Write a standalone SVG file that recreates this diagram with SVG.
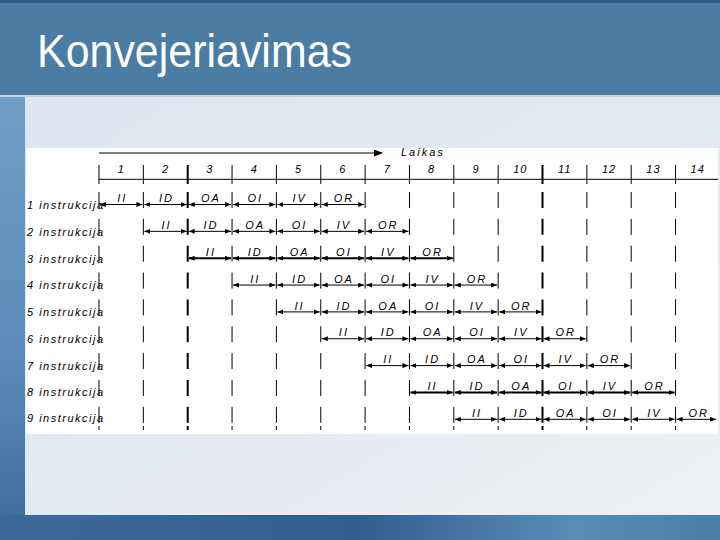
<svg xmlns="http://www.w3.org/2000/svg" width="720" height="540" viewBox="0 0 720 540">
<style>
.title{font-family:"Liberation Sans",Arial,sans-serif;font-size:47px;fill:#ffffff}
.lbl{font-family:"Liberation Sans",Arial,sans-serif;font-size:11px;font-style:italic;letter-spacing:1.5px;fill:#000}
.stg{font-family:"Liberation Sans",Arial,sans-serif;font-size:11px;font-style:italic;letter-spacing:2px;fill:#000;text-anchor:middle}
.num{font-family:"Liberation Sans",Arial,sans-serif;font-size:11px;font-style:italic;letter-spacing:1px;fill:#000;text-anchor:middle}
.grid{stroke:#000;stroke-width:1;fill:none}
.gt{stroke-width:2}
.dash{stroke-dasharray:16 10.85}
.arr{stroke:#000;stroke-width:1;fill:none;marker-start:url(#ah);marker-end:url(#ah)}
.thick{stroke-width:2}
</style>
<defs>
<marker id="ah" markerUnits="userSpaceOnUse" markerWidth="6" markerHeight="5" refX="6" refY="2.5" orient="auto-start-reverse"><path d="M0,0 L6,2.5 L0,5 z" fill="#000"/></marker>
<marker id="big" markerUnits="userSpaceOnUse" markerWidth="9" markerHeight="7" refX="8" refY="3.5" orient="auto"><path d="M0,0 L9,3.5 L0,7 z" fill="#000"/></marker>
<linearGradient id="panel" x1="0" y1="0" x2="1" y2="1">
<stop offset="0" stop-color="#dde5ee"/><stop offset="0.5" stop-color="#e3e9f0"/><stop offset="1" stop-color="#eef2f6"/>
</linearGradient>
<linearGradient id="left" x1="0" y1="0" x2="0" y2="1">
<stop offset="0" stop-color="#6e9ec8"/><stop offset="0.6" stop-color="#5a8bb8"/><stop offset="1" stop-color="#3c6a98"/>
</linearGradient>
<linearGradient id="bottom" x1="0" y1="0" x2="1" y2="0">
<stop offset="0" stop-color="#3c6a98"/><stop offset="0.5" stop-color="#2f5f8f"/><stop offset="0.8" stop-color="#5a8cb8"/><stop offset="1" stop-color="#4a7ca8"/>
</linearGradient>
</defs>
<!-- background -->
<rect x="0" y="0" width="720" height="540" fill="#4b7ca3"/>
<rect x="0" y="0" width="720" height="3" fill="#2c5a85"/>
<rect x="0" y="97" width="25" height="443" fill="url(#left)"/>
<rect x="0" y="515" width="720" height="25" fill="url(#bottom)"/>
<rect x="25" y="97" width="695" height="418" fill="url(#panel)"/>
<rect x="0" y="95" width="720" height="2" fill="#c5d2de"/>
<text class="title" x="37" y="67" textLength="315" lengthAdjust="spacingAndGlyphs">Konvejeriavimas</text>
<rect x="26" y="148" width="692" height="286" fill="#ffffff"/>

<!-- header -->
<g id="header">
<text class="lbl" x="401" y="156" style="letter-spacing:2px">Laikas</text>
<line class="grid" x1="99" y1="179.3" x2="718" y2="179.3"/>
<g class="grid">
<line x1="99" y1="165" x2="99" y2="184"/>
<line x1="143.35" y1="165" x2="143.35" y2="184"/>
<line class="gt" x1="187.7" y1="165" x2="187.7" y2="184"/>
<line x1="232.05" y1="165" x2="232.05" y2="184"/>
<line x1="276.4" y1="165" x2="276.4" y2="184"/>
<line x1="320.75" y1="165" x2="320.75" y2="184"/>
<line x1="365.1" y1="165" x2="365.1" y2="184"/>
<line x1="409.45" y1="165" x2="409.45" y2="184"/>
<line x1="453.8" y1="165" x2="453.8" y2="184"/>
<line x1="498.15" y1="165" x2="498.15" y2="184"/>
<line class="gt" x1="542.5" y1="165" x2="542.5" y2="184"/>
<line x1="586.85" y1="165" x2="586.85" y2="184"/>
<line x1="631.2" y1="165" x2="631.2" y2="184"/>
<line x1="675.55" y1="165" x2="675.55" y2="184"/>
</g>
<text class="num" x="121.2" y="173">1</text>
<text class="num" x="165.5" y="173">2</text>
<text class="num" x="209.9" y="173">3</text>
<text class="num" x="254.2" y="173">4</text>
<text class="num" x="298.6" y="173">5</text>
<text class="num" x="342.9" y="173">6</text>
<text class="num" x="387.3" y="173">7</text>
<text class="num" x="431.6" y="173">8</text>
<text class="num" x="476" y="173">9</text>
<text class="num" x="520.3" y="173">10</text>
<text class="num" x="564.7" y="173">11</text>
<text class="num" x="609" y="173">12</text>
<text class="num" x="653.4" y="173">13</text>
<text class="num" x="697.7" y="173">14</text>
</g>

<!-- body grid -->
<g id="grid" class="grid">
<g class="dash">
<line x1="99" y1="192" x2="99" y2="424"/>
<line x1="143.35" y1="192" x2="143.35" y2="424"/>
<line class="gt" x1="187.7" y1="192" x2="187.7" y2="424"/>
<line x1="232.05" y1="192" x2="232.05" y2="424"/>
<line x1="276.4" y1="192" x2="276.4" y2="424"/>
<line x1="320.75" y1="192" x2="320.75" y2="424"/>
<line x1="365.1" y1="192" x2="365.1" y2="424"/>
<line x1="409.45" y1="192" x2="409.45" y2="424"/>
<line x1="453.8" y1="192" x2="453.8" y2="424"/>
<line x1="498.15" y1="192" x2="498.15" y2="424"/>
<line class="gt" x1="542.5" y1="192" x2="542.5" y2="424"/>
<line x1="586.85" y1="192" x2="586.85" y2="424"/>
<line x1="631.2" y1="192" x2="631.2" y2="424"/>
<line x1="675.55" y1="192" x2="675.55" y2="424"/>
</g>
<path d="M99,426V430M143.35,426V430M232.05,426V430M276.4,426V430M320.75,426V430M365.1,426V430M409.45,426V430M453.8,426V430M498.15,426V430M586.85,426V430M631.2,426V430M675.55,426V430"/>
<path class="gt" d="M187.7,426V430M542.5,426V430"/>
</g>

<!-- connectors -->
<g id="connectors">
<line x1="99" y1="153" x2="382" y2="153" stroke="#000" stroke-width="1" marker-end="url(#big)"/>
<g class="arr">
<line x1="100" y1="204.5" x2="142.35" y2="204.5"/><line x1="144.35" y1="204.5" x2="186.7" y2="204.5"/><line x1="188.7" y1="204.5" x2="231.05" y2="204.5"/><line x1="233.05" y1="204.5" x2="275.4" y2="204.5"/><line x1="277.4" y1="204.5" x2="319.75" y2="204.5"/><line x1="321.75" y1="204.5" x2="364.1" y2="204.5"/>
<line x1="144.35" y1="231.35" x2="186.7" y2="231.35"/><line x1="188.7" y1="231.35" x2="231.05" y2="231.35"/><line x1="233.05" y1="231.35" x2="275.4" y2="231.35"/><line x1="277.4" y1="231.35" x2="319.75" y2="231.35"/><line x1="321.75" y1="231.35" x2="364.1" y2="231.35"/><line x1="366.1" y1="231.35" x2="408.45" y2="231.35"/>
<g class="thick"><line x1="188.7" y1="258.2" x2="231.05" y2="258.2"/><line x1="233.05" y1="258.2" x2="275.4" y2="258.2"/><line x1="277.4" y1="258.2" x2="319.75" y2="258.2"/><line x1="321.75" y1="258.2" x2="364.1" y2="258.2"/><line x1="366.1" y1="258.2" x2="408.45" y2="258.2"/><line x1="410.45" y1="258.2" x2="452.8" y2="258.2"/></g>
<line x1="233.05" y1="285.05" x2="275.4" y2="285.05"/><line x1="277.4" y1="285.05" x2="319.75" y2="285.05"/><line x1="321.75" y1="285.05" x2="364.1" y2="285.05"/><line x1="366.1" y1="285.05" x2="408.45" y2="285.05"/><line x1="410.45" y1="285.05" x2="452.8" y2="285.05"/><line x1="454.8" y1="285.05" x2="497.15" y2="285.05"/>
<line x1="277.4" y1="311.9" x2="319.75" y2="311.9"/><line x1="321.75" y1="311.9" x2="364.1" y2="311.9"/><line x1="366.1" y1="311.9" x2="408.45" y2="311.9"/><line x1="410.45" y1="311.9" x2="452.8" y2="311.9"/><line x1="454.8" y1="311.9" x2="497.15" y2="311.9"/><line x1="499.15" y1="311.9" x2="541.5" y2="311.9"/>
<line x1="321.75" y1="338.75" x2="364.1" y2="338.75"/><line x1="366.1" y1="338.75" x2="408.45" y2="338.75"/><line x1="410.45" y1="338.75" x2="452.8" y2="338.75"/><line x1="454.8" y1="338.75" x2="497.15" y2="338.75"/><line x1="499.15" y1="338.75" x2="541.5" y2="338.75"/><line x1="543.5" y1="338.75" x2="585.85" y2="338.75"/>
<line x1="366.1" y1="365.6" x2="408.45" y2="365.6"/><line x1="410.45" y1="365.6" x2="452.8" y2="365.6"/><line x1="454.8" y1="365.6" x2="497.15" y2="365.6"/><line x1="499.15" y1="365.6" x2="541.5" y2="365.6"/><line x1="543.5" y1="365.6" x2="585.85" y2="365.6"/><line x1="587.85" y1="365.6" x2="630.2" y2="365.6"/>
<g class="thick"><line x1="410.45" y1="392.45" x2="452.8" y2="392.45"/><line x1="454.8" y1="392.45" x2="497.15" y2="392.45"/><line x1="499.15" y1="392.45" x2="541.5" y2="392.45"/><line x1="543.5" y1="392.45" x2="585.85" y2="392.45"/><line x1="587.85" y1="392.45" x2="630.2" y2="392.45"/><line x1="632.2" y1="392.45" x2="674.55" y2="392.45"/></g>
<line x1="454.8" y1="419.3" x2="497.15" y2="419.3"/><line x1="499.15" y1="419.3" x2="541.5" y2="419.3"/><line x1="543.5" y1="419.3" x2="585.85" y2="419.3"/><line x1="587.85" y1="419.3" x2="630.2" y2="419.3"/><line x1="632.2" y1="419.3" x2="674.55" y2="419.3"/><line x1="676.55" y1="419.3" x2="716" y2="419.3"/>
</g>
</g>

<!-- rows -->
<g id="instr1"><text class="lbl" x="27" y="209">1 instrukcija</text>
<text class="stg" x="122.2" y="202">II</text><text class="stg" x="166.5" y="202">ID</text><text class="stg" x="210.9" y="202">OA</text><text class="stg" x="255.2" y="202">OI</text><text class="stg" x="299.6" y="202">IV</text><text class="stg" x="343.9" y="202">OR</text></g>
<g id="instr2"><text class="lbl" x="27" y="235.5">2 instrukcija</text>
<text class="stg" x="166.5" y="229">II</text><text class="stg" x="210.9" y="229">ID</text><text class="stg" x="255.2" y="229">OA</text><text class="stg" x="299.6" y="229">OI</text><text class="stg" x="343.9" y="229">IV</text><text class="stg" x="388.3" y="229">OR</text></g>
<g id="instr3"><text class="lbl" x="27" y="262.5">3 instrukcija</text>
<text class="stg" x="210.9" y="255.5">II</text><text class="stg" x="255.2" y="255.5">ID</text><text class="stg" x="299.6" y="255.5">OA</text><text class="stg" x="343.9" y="255.5">OI</text><text class="stg" x="388.3" y="255.5">IV</text><text class="stg" x="432.6" y="255.5">OR</text></g>
<g id="instr4"><text class="lbl" x="27" y="289">4 instrukcija</text>
<text class="stg" x="255.2" y="282.5">II</text><text class="stg" x="299.6" y="282.5">ID</text><text class="stg" x="343.9" y="282.5">OA</text><text class="stg" x="388.3" y="282.5">OI</text><text class="stg" x="432.6" y="282.5">IV</text><text class="stg" x="477" y="282.5">OR</text></g>
<g id="instr5"><text class="lbl" x="27" y="316">5 instrukcija</text>
<text class="stg" x="299.6" y="309.5">II</text><text class="stg" x="343.9" y="309.5">ID</text><text class="stg" x="388.3" y="309.5">OA</text><text class="stg" x="432.6" y="309.5">OI</text><text class="stg" x="477" y="309.5">IV</text><text class="stg" x="521.3" y="309.5">OR</text></g>
<g id="instr6"><text class="lbl" x="27" y="343">6 instrukcija</text>
<text class="stg" x="343.9" y="336">II</text><text class="stg" x="388.3" y="336">ID</text><text class="stg" x="432.6" y="336">OA</text><text class="stg" x="477" y="336">OI</text><text class="stg" x="521.3" y="336">IV</text><text class="stg" x="565.7" y="336">OR</text></g>
<g id="instr7"><text class="lbl" x="27" y="369.5">7 instrukcija</text>
<text class="stg" x="388.3" y="363">II</text><text class="stg" x="432.6" y="363">ID</text><text class="stg" x="477" y="363">OA</text><text class="stg" x="521.3" y="363">OI</text><text class="stg" x="565.7" y="363">IV</text><text class="stg" x="610" y="363">OR</text></g>
<g id="instr8"><text class="lbl" x="27" y="396">8 instrukcija</text>
<text class="stg" x="432.6" y="390">II</text><text class="stg" x="477" y="390">ID</text><text class="stg" x="521.3" y="390">OA</text><text class="stg" x="565.7" y="390">OI</text><text class="stg" x="610" y="390">IV</text><text class="stg" x="654.4" y="390">OR</text></g>
<g id="instr9"><text class="lbl" x="27" y="422">9 instrukcija</text>
<text class="stg" x="477" y="416.5">II</text><text class="stg" x="521.3" y="416.5">ID</text><text class="stg" x="565.7" y="416.5">OA</text><text class="stg" x="610" y="416.5">OI</text><text class="stg" x="654.4" y="416.5">IV</text><text class="stg" x="698.7" y="416.5">OR</text></g>
</svg>
